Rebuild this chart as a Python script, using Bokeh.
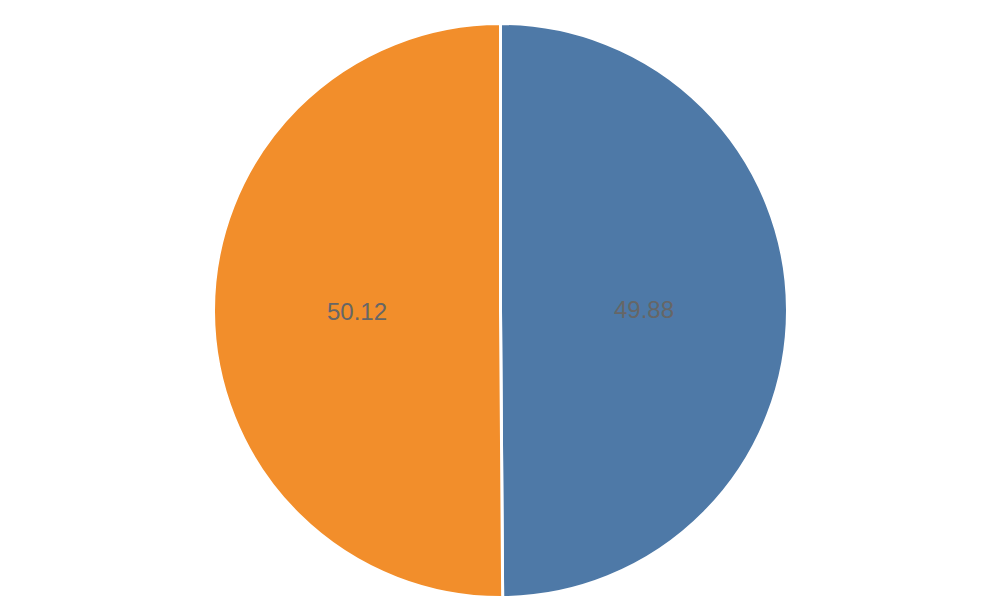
import math
from bokeh.plotting import figure
from bokeh.models import Range1d, ColumnDataSource
from bokeh.core.properties import value
from bokeh.embed import file_html
from bokeh.resources import INLINE

categories = ["A", "B"]
values = [49.88, 50.12]
colors = ["#4e79a7", "#f28e2b"]
labels = ["49.88", "50.12"]

W, H = 1000, 600
cx, cy, r = 500, 290, 287

total = sum(values)
starts, ends, lx, ly = [], [], [], []
acc = 0.0
for v in values:
    a0 = math.pi / 2 - 2 * math.pi * acc / total
    acc += v
    a1 = math.pi / 2 - 2 * math.pi * acc / total
    starts.append(a0)
    ends.append(a1)
    mid = (a0 + a1) / 2
    lx.append(cx + 0.5 * r * math.cos(mid))
    ly.append(cy + 0.5 * r * math.sin(mid))

src = ColumnDataSource(dict(cat=categories, val=values, color=colors, start=starts, end=ends,
                            lx=lx, ly=ly, label=labels, x=[cx] * len(values), y=[cy] * len(values)))

p = figure(width=W, height=H, x_range=Range1d(0, W), y_range=Range1d(0, H),
           output_backend="svg", toolbar_location=None, min_border=0)
p.axis.visible = False
p.grid.visible = False
p.outline_line_color = None
p.background_fill_color = "white"
p.border_fill_color = "white"

p.wedge(x="x", y="y", radius=r, start_angle="start", end_angle="end", direction="clock",
        fill_color="color", line_color="white", line_width=3, source=src)
p.text(x="lx", y="ly", text="label", text_align="center", text_baseline="middle",
       text_font=value("Liberation Sans"), text_font_size="24px", text_color="#666666", source=src)

open("out.html", "w").write(file_html(p, INLINE))
